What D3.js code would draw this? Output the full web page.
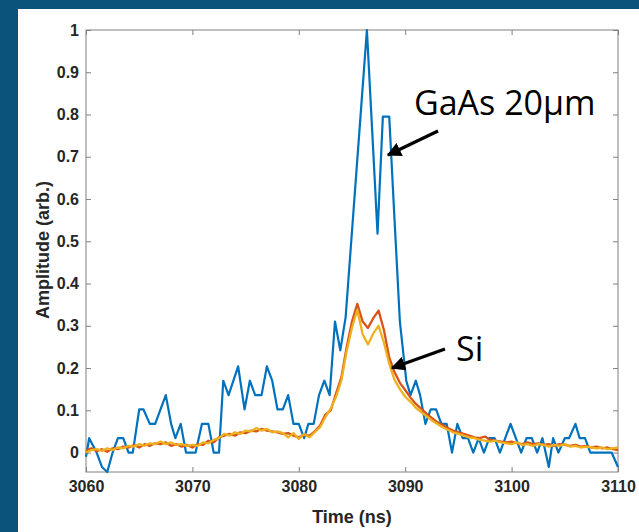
<!DOCTYPE html>
<html>
<head>
<meta charset="utf-8">
<script src="https://cdn.jsdelivr.net/npm/d3@7"></script>
<style>
  html, body { margin: 0; padding: 0; background: #0b5378; }
  #chartbox { width: 639px; height: 532px; }
</style>
</head>
<body>
<div id="chartbox"></div>
<script>
// GaAs trace (irregular sampling)
var gaasT = [3060, 3060.3, 3061, 3061.5, 3062, 3062.5, 3063, 3063.5, 3064, 3064.4, 3065, 3065.4, 3066, 3066.5, 3067.5, 3068, 3068.4, 3068.9, 3069.4, 3070.3, 3070.9, 3071.5, 3072, 3072.5, 3072.9, 3073.4, 3074.3, 3074.9, 3075.4, 3075.9, 3076.5, 3077, 3077.5, 3078, 3078.5, 3079, 3079.5, 3080, 3080.5, 3080.9, 3081.4, 3081.9, 3082.4, 3082.9, 3083.4, 3083.9, 3084.4, 3084.9, 3085.4, 3085.9, 3086.4, 3086.9, 3087.4, 3087.9, 3088.5, 3089, 3089.5, 3090.1, 3090.5, 3091, 3091.4, 3091.9, 3092.4, 3092.9, 3093.4, 3093.9, 3094.4, 3094.9, 3095.4, 3095.9, 3096.4, 3096.9, 3097.4, 3097.9, 3098.4, 3098.9, 3099.4, 3099.9, 3100.4, 3100.9, 3101.4, 3101.9, 3102.4, 3102.9, 3103.5, 3103.9, 3104.4, 3105, 3105.4, 3106, 3106.4, 3106.9, 3107.4, 3108, 3108.5, 3109.4, 3110];
var gaasV = [-0.01, 0.034, 0, -0.034, -0.046, 0, 0.034, 0.034, 0, 0, 0.102, 0.102, 0.068, 0.068, 0.136, 0.068, 0.034, 0.068, 0, 0, 0.068, 0.068, 0, 0, 0.17, 0.136, 0.204, 0.102, 0.17, 0.136, 0.136, 0.204, 0.17, 0.102, 0.102, 0.136, 0.068, 0.068, 0.034, 0.068, 0.068, 0.136, 0.17, 0.136, 0.31, 0.242, 0.32, 0.49, 0.66, 0.83, 1.0, 0.76, 0.518, 0.795, 0.795, 0.55, 0.31, 0.17, 0.136, 0.17, 0.136, 0.068, 0.102, 0.102, 0.068, 0.068, 0, 0.068, 0.034, 0.034, 0, 0.034, 0, 0.034, 0.034, 0, 0.034, 0.068, 0.034, 0, 0.034, 0.034, 0, 0.034, -0.034, 0.034, 0, 0.034, 0.034, 0.068, 0.034, 0.034, 0, 0, 0, 0, -0.034];

// Si traces, sampled every 0.5 ns from 3060 to 3110
var siT = d3.range(3060, 3110.01, 0.5);
var siRed = [0.005, 0.010, 0.003, 0.008, 0.002, 0.010, 0.008, 0.014, 0.012, 0.018,
  0.012, 0.020, 0.016, 0.022, 0.020, 0.024, 0.016, 0.020, 0.014, 0.018,
  0.012, 0.020, 0.018, 0.028, 0.024, 0.036, 0.040, 0.044, 0.040, 0.048,
  0.046, 0.052, 0.050, 0.056, 0.052, 0.050, 0.048, 0.044, 0.046, 0.040,
  0.036, 0.042, 0.040, 0.050, 0.064, 0.090, 0.100, 0.140, 0.178, 0.250,
  0.310, 0.352, 0.310, 0.295, 0.318, 0.336, 0.290, 0.225, 0.190, 0.165,
  0.148, 0.130, 0.115, 0.104, 0.092, 0.082, 0.072, 0.066, 0.058, 0.052,
  0.048, 0.044, 0.040, 0.036, 0.034, 0.038, 0.030, 0.028, 0.026, 0.024,
  0.026, 0.022, 0.020, 0.024, 0.020, 0.022, 0.018, 0.020, 0.016, 0.020,
  0.018, 0.016, 0.018, 0.014, 0.016, 0.012, 0.014, 0.010, 0.012, 0.008, 0.006];
var siYellow = [0.000, 0.006, 0.008, 0.004, 0.010, 0.006, 0.012, 0.010, 0.016, 0.014,
  0.020, 0.016, 0.022, 0.020, 0.026, 0.020, 0.024, 0.018, 0.020, 0.016,
  0.018, 0.016, 0.024, 0.022, 0.030, 0.034, 0.044, 0.040, 0.048, 0.044,
  0.052, 0.050, 0.058, 0.052, 0.056, 0.048, 0.050, 0.046, 0.036, 0.046,
  0.032, 0.044, 0.036, 0.048, 0.060, 0.084, 0.104, 0.132, 0.170, 0.240,
  0.296, 0.338, 0.280, 0.256, 0.282, 0.300, 0.260, 0.210, 0.172, 0.150,
  0.132, 0.120, 0.106, 0.096, 0.086, 0.076, 0.068, 0.060, 0.054, 0.048,
  0.044, 0.040, 0.036, 0.034, 0.030, 0.028, 0.026, 0.028, 0.024, 0.022,
  0.020, 0.024, 0.018, 0.020, 0.016, 0.020, 0.018, 0.014, 0.018, 0.016,
  0.020, 0.014, 0.016, 0.012, 0.014, 0.012, 0.010, 0.012, 0.008, 0.010, 0.012];

var xTicks = [3060, 3070, 3080, 3090, 3100, 3110];
var yTicks = [0, 0.1, 0.2, 0.3, 0.4, 0.5, 0.6, 0.7, 0.8, 0.9, 1];

const width = 639, height = 532;
var margin = {top: 30, right: 21, bottom: 60, left: 86};

var svg = d3.select('#chartbox').append('svg')
  .attr('width', width).attr('height', height);

// white panel inside the blue frame
svg.append('rect').attr('x', 18).attr('y', 9).attr('width', width - 18).attr('height', height - 9).attr('fill', 'white');

var x = d3.scaleLinear().domain([3060, 3110]).range([margin.left, width - margin.right]);
var y = d3.scaleLinear().domain([-0.046, 1]).range([height - margin.bottom, margin.top]);

var tickFont = "bold 16px 'Liberation Sans', Arial, sans-serif";

function styleAxis(g) {
  g.select('.domain').remove();
  g.selectAll('.tick line').attr('stroke', '#808080');
  g.selectAll('.tick text').attr('fill', '#262626').style('font', tickFont);
}

svg.append('g').attr('transform', 'translate(0,' + y.range()[0] + ')')
  .call(d3.axisBottom(x).tickValues(xTicks).tickSizeInner(-5).tickSizeOuter(0).tickPadding(9).tickFormat(d3.format('d')))
  .call(styleAxis);
svg.append('g').attr('transform', 'translate(0,' + y.range()[1] + ')')
  .call(d3.axisTop(x).tickValues(xTicks).tickSizeInner(-5).tickSizeOuter(0).tickFormat(''))
  .call(styleAxis);
svg.append('g').attr('transform', 'translate(' + x.range()[0] + ',0)')
  .call(d3.axisLeft(y).tickValues(yTicks).tickSizeInner(-5).tickSizeOuter(0).tickPadding(7).tickFormat(d3.format('~g')))
  .call(styleAxis);
svg.append('g').attr('transform', 'translate(' + x.range()[1] + ',0)')
  .call(d3.axisRight(y).tickValues(yTicks).tickSizeInner(-5).tickSizeOuter(0).tickFormat(''))
  .call(styleAxis);

// plot box
svg.append('rect')
  .attr('x', x.range()[0]).attr('y', y.range()[1])
  .attr('width', x.range()[1] - x.range()[0]).attr('height', y.range()[0] - y.range()[1])
  .attr('fill', 'none').attr('stroke', '#808080').attr('stroke-width', 1);

var line = d3.line().x(function(d){ return x(d[0]); }).y(function(d){ return y(d[1]); });

svg.append('path').datum(gaasT.map(function(t, i){ return [t, gaasV[i]]; }))
  .attr('d', line).attr('fill', 'none').attr('stroke', '#0072BD').attr('stroke-width', 2.2).attr('stroke-linejoin', 'round');
svg.append('path').datum(siT.map(function(t, i){ return [t, siRed[i]]; }))
  .attr('d', line).attr('fill', 'none').attr('stroke', '#D95319').attr('stroke-width', 2.3).attr('stroke-linejoin', 'round');
svg.append('path').datum(siT.map(function(t, i){ return [t, siYellow[i]]; }))
  .attr('d', line).attr('fill', 'none').attr('stroke', '#EDB120').attr('stroke-width', 2.3).attr('stroke-linejoin', 'round');

// axis labels
var labFont = "bold 18px 'Liberation Sans', Arial, sans-serif";
svg.append('text').attr('x', (x.range()[0] + x.range()[1]) / 2).attr('y', 523)
  .attr('text-anchor', 'middle').attr('fill', '#262626').style('font', labFont).text('Time (ns)');
svg.append('text').attr('transform', 'translate(49,' + 250 + ') rotate(-90)')
  .attr('text-anchor', 'middle').attr('fill', '#262626').style('font', labFont).text('Amplitude (arb.)');

// annotations
svg.append('defs').append('marker').attr('id', 'head')
  .attr('viewBox', '0 0 10 10').attr('refX', 9).attr('refY', 5)
  .attr('markerWidth', 4.5).attr('markerHeight', 4.5).attr('orient', 'auto')
  .append('path').attr('d', 'M0,0 L10,5 L0,10 z').attr('fill', 'black');

var annFont = "34px 'Open Sans', 'Noto Sans', sans-serif";
svg.append('text').attr('x', 414).attr('y', 115).style('font', annFont).attr('fill', 'black').text('GaAs 20μm');
svg.append('text').attr('x', 456).attr('y', 361).style('font', annFont).attr('fill', 'black').text('Si');

svg.append('line').attr('x1', 438).attr('y1', 131).attr('x2', 388).attr('y2', 155)
  .attr('stroke', 'black').attr('stroke-width', 3.2).attr('marker-end', 'url(#head)');
svg.append('line').attr('x1', 445).attr('y1', 349).attr('x2', 392).attr('y2', 368)
  .attr('stroke', 'black').attr('stroke-width', 3.2).attr('marker-end', 'url(#head)');
</script>
</body>
</html>
